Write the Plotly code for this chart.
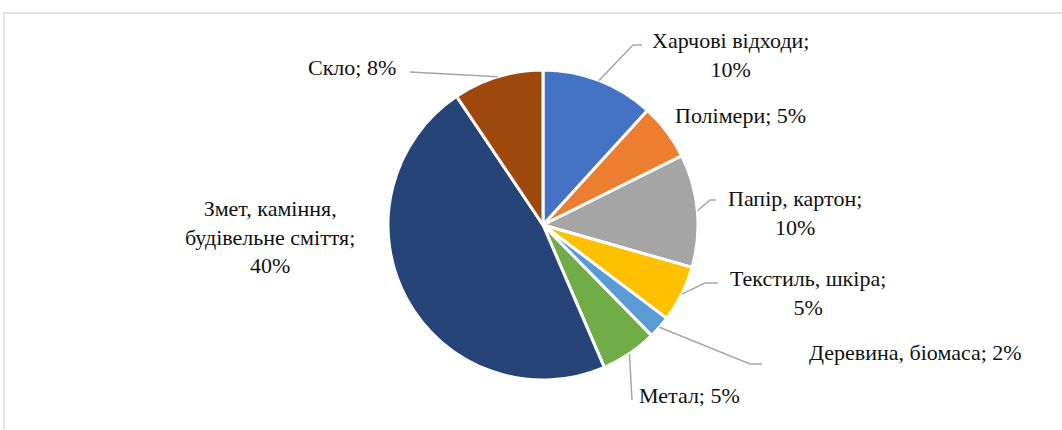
import math
import plotly.graph_objects as go

# ---- data ----
categories = ["Харчові відходи", "Полімери", "Папір, картон", "Текстиль, шкіра",
              "Деревина, біомаса", "Метал", "Змет, каміння, будівельне сміття", "Скло"]
values = [10, 5, 10, 5, 2, 5, 40, 8]
label_texts = ["Харчові відходи;<br>10%", "Полімери; 5%", "Папір, картон;<br>10%",
               "Текстиль, шкіра;<br>5%", "Деревина, біомаса; 2%", "Метал; 5%",
               "Змет, каміння,<br>будівельне сміття;<br>40%", "Скло; 8%"]
colors = ["#4472C4", "#ED7D31", "#A5A5A5", "#FFC000", "#5B9BD5", "#70AD47", "#264478", "#9E480E"]

# ---- layout geometry (pixels) ----
W, H = 1062, 430
CX, CY, R = 543, 225, 155

def px(x):
    return x / W

def py(y):
    return 1 - y / H

# label centre positions (pixel) and leader elbow/end points (None = no leader)
label_pos = [(730, 55), (740, 115), (795, 213), (808, 293), (915, 352), (689, 395), (270, 237), (352, 68)]
leader_pts = [[(633, 45), (642, 45)], None, [(710, 200), (716, 200)], [(705, 283), (718, 283)],
              [(750, 364), (762, 364)], [(632, 400)], None, [(410, 72)]]

FONT = "Times New Roman, Liberation Serif, Tinos, DejaVu Serif, serif"

fig = go.Figure(go.Pie(
    labels=categories, values=values, sort=False, direction="clockwise", rotation=0,
    marker=dict(colors=colors, line=dict(color="white", width=3)),
    textinfo="none", hoverinfo="label+percent", showlegend=False,
    domain=dict(x=[px(CX - R), px(CX + R)], y=[py(CY + R), py(CY - R)]),
))

shapes = [dict(type="rect", xref="paper", yref="paper", x0=px(4), x1=px(1070),
               y0=py(440), y1=py(13), line=dict(color="#D9D9D9", width=1.3), layer="below")]

total = sum(values)
cum = 0
annotations = []
for i, v in enumerate(values):
    mid = (cum + v / 2) / total * 2 * math.pi
    cum += v
    sx = CX + R * math.sin(mid)
    sy = CY - R * math.cos(mid)
    if leader_pts[i]:
        pts = [(sx, sy)] + leader_pts[i]
        path = "M " + " L ".join(f"{px(x):.5f},{py(y):.5f}" for x, y in pts)
        shapes.append(dict(type="path", xref="paper", yref="paper", path=path,
                           line=dict(color="#A6A6A6", width=1.5)))
    lx, ly = label_pos[i]
    annotations.append(dict(xref="paper", yref="paper", x=px(lx), y=py(ly),
                            text=label_texts[i], showarrow=False, align="center",
                            xanchor="center", yanchor="middle",
                            font=dict(family=FONT, size=22, color="#111111")))

fig.update_layout(width=W, height=H, margin=dict(l=0, r=0, t=0, b=0),
                  paper_bgcolor="white", plot_bgcolor="white",
                  font=dict(family=FONT),
                  shapes=shapes, annotations=annotations)

fig.write_html("out.html", config={"displayModeBar": False},
               post_script="document.body.style.margin='0px';document.body.style.overflow='hidden';")
